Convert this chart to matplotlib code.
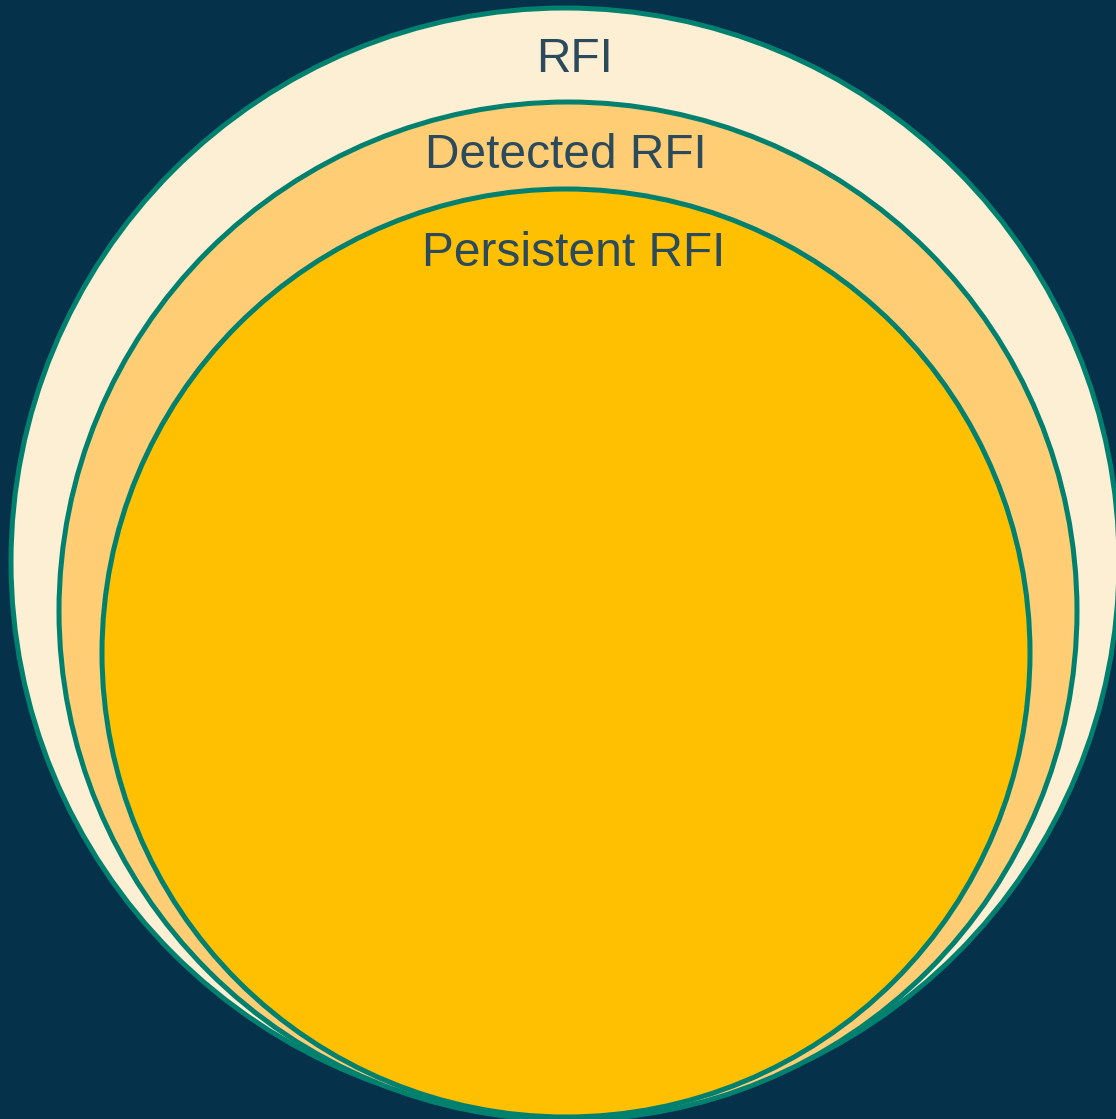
import matplotlib.pyplot as plt
from matplotlib.patches import Circle

# Nested sets (outer to inner), geometry in pixel units of the picture
labels = ["RFI", "Detected RFI", "Persistent RFI"]
centers_x = [565, 568, 566]
centers_y = [562, 611, 653]
radii = [554, 509, 464]
label_x = [575, 566, 574]
label_y = [59, 155, 254]

fills = ["#fdefd4", "#fecd74", "#fec000"]
EDGE = "#00806f"
BG = "#05314a"
TEXT = "#2b4a5b"

W, H = 1116, 1119
fig = plt.figure(figsize=(W / 100, H / 100), dpi=100, facecolor=BG)
ax = fig.add_axes([0, 0, 1, 1])
ax.set_facecolor(BG)
ax.set_xlim(0, W)
ax.set_ylim(H, 0)
ax.set_aspect("equal")
ax.axis("off")

for cx, cy, r, fc in zip(centers_x, centers_y, radii, fills):
    ax.add_patch(Circle((cx, cy), r, facecolor=fc, edgecolor=EDGE, linewidth=3.6))

for name, tx, ty in zip(labels, label_x, label_y):
    ax.text(tx, ty, name, ha="center", va="center", fontsize=34.5,
            color=TEXT, family="Liberation Sans")

fig.savefig("out.png", dpi=100, facecolor=BG)
